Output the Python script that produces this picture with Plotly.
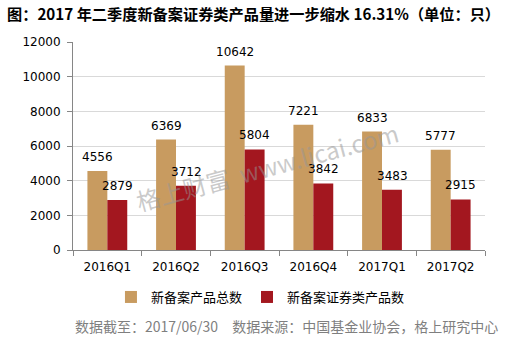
import plotly.graph_objects as go

categories = ["2016Q1", "2016Q2", "2016Q3", "2016Q4", "2017Q1", "2017Q2"]
total_new = [4556, 6369, 10642, 7221, 6833, 5777]
securities_new = [2879, 3712, 5804, 3842, 3483, 2915]
series_names = ["新备案产品总数", "新备案证券类产品数"]
y_ticks = [0, 2000, 4000, 6000, 8000, 10000, 12000]

TAN = "#C89B60"
RED = "#A3171F"
FONT = "DejaVu Sans"
CJK = "Noto Sans CJK SC"

fig = go.Figure()
fig.add_trace(go.Bar(x=categories, y=total_new, name=series_names[0],
                     marker=dict(color=TAN, line=dict(width=0))))
fig.add_trace(go.Bar(x=categories, y=securities_new, name=series_names[1],
                     marker=dict(color=RED, line=dict(width=0))))

annotations = []
for c, v in zip(categories, total_new):
    annotations.append(dict(x=c, y=v, xref="x", yref="y", text=str(v), showarrow=False,
                            xshift=-10, yshift=14, font=dict(family=FONT, size=12, color="#000")))
for c, v in zip(categories, securities_new):
    annotations.append(dict(x=c, y=v, xref="x", yref="y", text=str(v), showarrow=False,
                            xshift=10, yshift=14, font=dict(family=FONT, size=12, color="#000")))

# watermark
annotations.append(dict(x=0.47, y=0.40, xref="paper", yref="paper",
                        text="格上财富  www.licai.com", showarrow=False, textangle=-15,
                        font=dict(family=CJK, size=24, color="rgba(150,150,150,0.5)")))
# footer
annotations.append(dict(x=0, y=-0.365, xref="paper", yref="paper", xanchor="left", yanchor="middle",
                        text="数据截至：2017/06/30　数据来源：中国基金业协会，格上研究中心",
                        showarrow=False, font=dict(family=CJK, size=14, color="#7F7F7F")))
# title
annotations.append(dict(x=(5 - 73) / 412, y=(250 - 13) / 208, xref="paper", yref="paper",
                        xanchor="left", yanchor="middle",
                        text="<b>图：2017 年二季度新备案证券类产品量进一步缩水 16.31%（单位：只）</b>",
                        showarrow=False, font=dict(family=CJK, size=15.2, color="#000")))

fig.update_layout(
    width=505, height=343,
    margin=dict(l=73, r=20, t=42, b=93),
    paper_bgcolor="white", plot_bgcolor="white",
    barmode="group", bargap=0.42, bargroupgap=0,
    showlegend=True,
    legend=dict(orientation="h", x=0.455, y=-0.226, xanchor="center", yanchor="middle",
                font=dict(family=CJK, size=13, color="#000"), itemwidth=30, traceorder="normal"),
    annotations=annotations,
    xaxis=dict(type="category", showline=True, linecolor="#868686", linewidth=1,
               ticks="outside", tickson="boundaries", ticklen=5, tickcolor="#868686",
               ticklabelstandoff=6,
               tickfont=dict(family=FONT, size=12, color="#000"), showgrid=False, fixedrange=True),
    yaxis=dict(range=[0, 12000], tickvals=y_ticks, ticktext=[str(t) for t in y_ticks],
               showline=True, linecolor="#868686", linewidth=1,
               ticks="outside", ticklen=5, tickcolor="#868686", showgrid=True, gridcolor="#D9D9D9",
               gridwidth=1, zeroline=False, ticklabelstandoff=4,
               tickfont=dict(family=FONT, size=12, color="#000")),
)

fig.write_html("out.html")
